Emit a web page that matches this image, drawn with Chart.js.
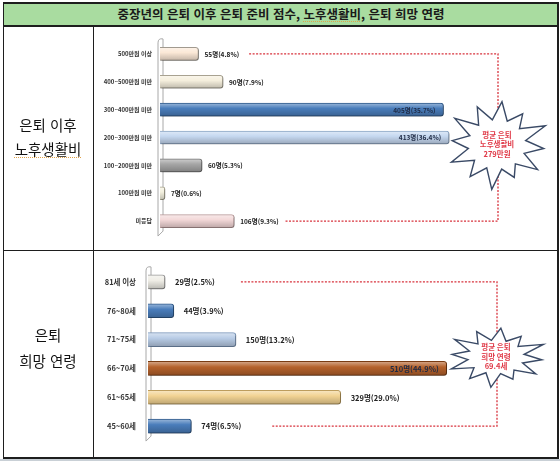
<!DOCTYPE html>
<html lang="ko">
<head>
<meta charset="utf-8">
<title>중장년의 은퇴 이후 은퇴 준비 점수, 노후생활비, 은퇴 희망 연령</title>
<script src="https://cdn.jsdelivr.net/npm/chart.js@4.4.1/dist/chart.umd.min.js"></script>
<style>
  html, body { margin: 0; padding: 0; background: #fff; }
  body { width: 560px; height: 461px; position: relative; overflow: hidden;
         font-family: 'Noto Sans CJK KR', 'Noto Sans', sans-serif; color: #111; }
  canvas { position: absolute; }
  #costChart { left: 93px; top: 26px; }
  #ageChart { left: 93px; top: 251px; }
  .line { position: absolute; background: #1e1e1e; }
  .title { position: absolute; left: 3px; top: 2px; width: 556px; height: 24px; background: #a9dca0;
           font-size: 12.5px; font-weight: bold; line-height: 24px; text-align: center; color: #1a1a1a; }
  .side { position: absolute; left: 3px; width: 90px; text-align: center; font-size: 14.5px; line-height: 20px; color: #111; }
  .spell { text-decoration: underline dotted #e0a24a; text-decoration-thickness: 1px; text-underline-offset: 2px; }
  .strip { position: absolute; left: 0; top: 459px; width: 560px; height: 2px; background: #c9d0d6; }
</style>
</head>
<body>
<canvas id="costChart" width="465" height="224"></canvas>
<canvas id="ageChart" width="465" height="206"></canvas>

<div class="title">중장년의 은퇴 이후 은퇴 준비 점수, <span class="spell">노후생활비</span>, 은퇴 희망 연령</div>
<div class="line" style="left:3px; top:2px; width:556px; height:1.5px;"></div>
<div class="line" style="left:3px; top:25px; width:556px; height:1.5px;"></div>
<div class="line" style="left:3px; top:249.5px; width:556px; height:1.5px;"></div>
<div class="line" style="left:3px; top:457px; width:556px; height:1.5px;"></div>
<div class="line" style="left:2.5px; top:2px; width:1.5px; height:456px;"></div>
<div class="line" style="left:557px; top:2px; width:1.5px; height:456px;"></div>
<div class="line" style="left:92.5px; top:26px; width:1.5px; height:432px;"></div>
<div class="strip"></div>

<div class="side" style="top:115px;">은퇴 이후</div>
<div class="side" style="top:139px;"><span class="spell">노후생활비</span></div>
<div class="side" style="top:325px;">은퇴</div>
<div class="side" style="top:351px;">희망 연령</div>

<script>
// 노후생활비 (월)
const costLabels = ['500만원 이상', '400~500만원 미만', '300~400만원 미만', '200~300만원 미만', '100~200만원 미만', '100만원 미만', '미응답'];
const costCounts = [55, 90, 405, 413, 60, 7, 106];
const costPct = [4.8, 7.9, 35.7, 36.4, 5.3, 0.6, 9.3];
const costAvg = ['평균 은퇴', '노후생활비', '279만원'];

// 은퇴 희망 연령
const ageLabels = ['81세 이상', '76~80세', '71~75세', '66~70세', '61~65세', '45~60세'];
const ageCounts = [29, 44, 150, 510, 329, 74];
const agePct = [2.5, 3.9, 13.2, 44.9, 29.0, 6.5];
const ageAvg = ['평균 은퇴', '희망 연령', '69.4세'];

const costColors = ['#fbe8d6', '#f5efdd', '#4a7dbb', '#c5d8f0', '#a6a6a6', '#f4f1df', '#f3d8d8'];
const costBorders = ['#a39b90', '#aaa492', '#2f5a8c', '#8ea8c8', '#777777', '#a8a48e', '#bfa0a0'];
const ageColors = ['#efede6', '#4a7dbb', '#b8cce6', '#b5622c', '#f2d393', '#4a7dbb'];
const ageBorders = ['#9c9c9c', '#2f5a8c', '#7f9cc0', '#7a3c12', '#bf9f5e', '#2f5a8c'];

const FONT = "'Noto Sans CJK KR', 'Noto Sans', sans-serif";

function shade(hex, amt) {
  const n = parseInt(hex.slice(1), 16);
  const t = amt < 0 ? 0 : 255, p = Math.abs(amt);
  const mix = v => Math.round(v + (t - v) * p);
  return 'rgb(' + mix(n >> 16) + ',' + mix((n >> 8) & 255) + ',' + mix(n & 255) + ')';
}

// vertical gradient per bar so it looks like a rounded tube
function barFill(colors, half) {
  return c => {
    const chart = c.chart, base = colors[c.dataIndex];
    const sc = chart.scales && chart.scales.y;
    if (!chart.chartArea || !sc || c.type !== 'data') return base;
    const y = sc.getPixelForValue(c.dataIndex);
    const g = chart.ctx.createLinearGradient(0, y - half, 0, y + half);
    g.addColorStop(0, shade(base, 0.45));
    g.addColorStop(0.4, base);
    g.addColorStop(1, shade(base, -0.22));
    return g;
  };
}

// axis wall + drop shadow under the bars
const bars3d = {
  id: 'bars3d',
  beforeDatasetsDraw(chart) {
    const { ctx, chartArea: a } = chart;
    const meta = chart.getDatasetMeta(0);
    const top = meta.data[0].y - 16, bot = meta.data[meta.data.length - 1].y + 14;
    const L = a.left;
    ctx.save();
    ctx.strokeStyle = '#a8a8a8';
    ctx.lineWidth = 1;
    ctx.beginPath();
    ctx.moveTo(L + 3, bot - 4);
    ctx.lineTo(L - 2, bot + 1);
    ctx.lineTo(L - 2, top + 5);
    ctx.quadraticCurveTo(L - 2, top, L + 3, top + 1);
    ctx.lineTo(L + 3, bot - 4);
    ctx.stroke();
    ctx.restore();
    ctx.save();
    ctx.shadowColor = 'rgba(0,0,0,0.35)';
    ctx.shadowOffsetX = 1.5;
    ctx.shadowOffsetY = 1.5;
    ctx.shadowBlur = 2;
  },
  afterDatasetsDraw(chart) { chart.ctx.restore(); }
};

// value labels, red dashed bracket and the starburst with the average
const annotate = {
  id: 'annotate',
  afterDraw(chart, args, o) {
    const { ctx, chartArea: a } = chart;
    const meta = chart.getDatasetMeta(0);
    const vals = chart.data.datasets[0].data;
    const last = meta.data.length - 1;
    const ends = [];
    ctx.save();
    ctx.font = o.font;
    ctx.textBaseline = 'middle';
    meta.data.forEach((bar, i) => {
      const txt = vals[i] + '명(' + o.pct[i].toFixed(1) + '%)';
      if (vals[i] >= o.insideMin) {
        ctx.textAlign = 'right';
        ctx.fillStyle = '#1e2a44';
        ctx.fillText(txt, bar.x - 8, bar.y + 0.5);
        ends.push(bar.x);
      } else {
        ctx.textAlign = 'left';
        ctx.fillStyle = '#222';
        ctx.fillText(txt, bar.x + o.gap, bar.y + 0.5);
        ends.push(bar.x + o.gap + ctx.measureText(txt).width);
      }
    });

    const bx = a.right - o.inset;
    const y0 = meta.data[0].y, y1 = meta.data[last].y;
    ctx.strokeStyle = '#d8323c';
    ctx.lineWidth = 1.3;
    ctx.setLineDash([2, 1.5]);
    ctx.beginPath();
    ctx.moveTo(ends[0] + o.gapFirst, y0);
    ctx.lineTo(bx, y0);
    ctx.lineTo(bx, y1);
    ctx.lineTo(ends[last] + o.gapLast, y1);
    ctx.stroke();
    ctx.setLineDash([]);

    const cx = bx - 1, cy = (y0 + y1) / 2 + o.dy;
    const jag = [1, 0.88, 1.06, 0.94, 1, 0.84, 1.05, 0.92, 1, 0.9, 1.04, 0.96];
    ctx.beginPath();
    for (let k = 0; k < 24; k++) {
      const ang = -Math.PI / 2 + k * Math.PI / 12 + 0.1;
      const m = k % 2 === 0 ? jag[k / 2] : 0.58;
      const px = cx + Math.cos(ang) * o.rx * m, py = cy + Math.sin(ang) * o.ry * m;
      if (k) ctx.lineTo(px, py); else ctx.moveTo(px, py);
    }
    ctx.closePath();
    ctx.fillStyle = '#fff';
    ctx.fill();
    ctx.strokeStyle = '#3a4a66';
    ctx.lineWidth = 1.4;
    ctx.stroke();
    ctx.fillStyle = '#e03a48';
    ctx.font = 'bold 7.5px ' + FONT;
    ctx.textAlign = 'center';
    o.lines.forEach((t, i) => ctx.fillText(t, cx, cy + (i - 1) * 9.5));
    ctx.restore();
  }
};

function makeChart(id, labels, counts, colors, borders, cfg) {
  return new Chart(document.getElementById(id), {
    type: 'bar',
    data: {
      labels: labels,
      datasets: [{
        data: counts,
        backgroundColor: barFill(colors, cfg.thick / 2),
        borderColor: borders,
        borderWidth: 1,
        borderSkipped: 'start',
        borderRadius: 3,
        barThickness: cfg.thick
      }]
    },
    options: {
      responsive: false,
      animation: false,
      indexAxis: 'y',
      layout: { padding: cfg.padding },
      plugins: {
        legend: { display: false },
        tooltip: { enabled: false },
        annotate: cfg.annotate
      },
      scales: {
        x: { display: false, min: 0, max: cfg.max },
        y: {
          grid: { display: false, drawTicks: false },
          border: { display: false },
          ticks: { padding: cfg.tickPad, color: '#333', font: { family: FONT, size: cfg.tickSize, weight: 'bold' } },
          afterFit: s => { s.width = cfg.axisWidth; }
        }
      }
    },
    plugins: [bars3d, annotate]
  });
}

makeChart('costChart', costLabels, costCounts, costColors, costBorders, {
  thick: 13, max: 560, axisWidth: 67, tickPad: 8, tickSize: 6,
  padding: { top: 14, bottom: 15, left: 0, right: 6 },
  annotate: { font: 'bold 6.5px ' + FONT, pct: costPct, insideMin: 300, gap: 6,
              gapFirst: 10, gapLast: 6, inset: 54, dy: 7, rx: 50, ry: 43, lines: costAvg }
});

makeChart('ageChart', ageLabels, ageCounts, ageColors, ageBorders, {
  thick: 14, max: 700, axisWidth: 55, tickPad: 12, tickSize: 7.5,
  padding: { top: 16, bottom: 14, left: 0, right: 0 },
  annotate: { font: 'bold 7.5px ' + FONT, pct: agePct, insideMin: 400, gap: 10,
              gapFirst: 26, gapLast: 30, inset: 61, dy: 3, rx: 49, ry: 29, lines: ageAvg }
});
</script>
</body>
</html>
